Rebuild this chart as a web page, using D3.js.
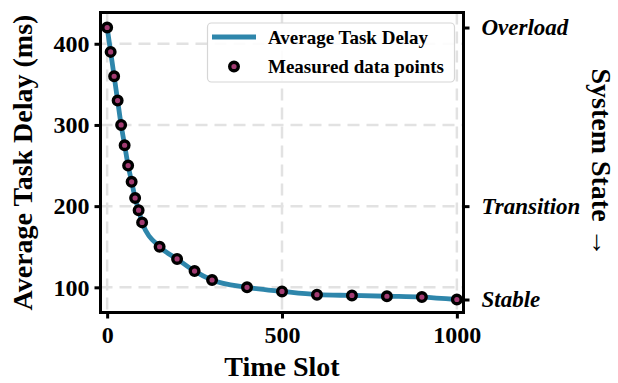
<!DOCTYPE html>
<html>
<head>
<meta charset="utf-8">
<script src="https://cdn.jsdelivr.net/npm/d3@7"></script>
<style>
  html, body { margin: 0; padding: 0; background: #fff; }
  svg { display: block; }
  text { font-family: "Liberation Serif", "Times New Roman", serif; font-weight: bold; fill: #000; }
</style>
</head>
<body>
<svg id="chart" width="618" height="383"></svg>
<script>
// Measured delay per time slot
const timeSlots = [0, 10, 20, 30, 40, 50, 60, 70, 80, 90, 100, 150, 200, 250, 300, 400, 500, 600, 700, 800, 900, 1000];
const delays    = [420, 390, 360, 330, 300, 275, 250, 230, 210, 195, 180, 150, 135, 120, 109, 100, 95, 91, 90, 89, 88, 85];

// Axis ticks
const xTicks = [0, 500, 1000];
const yTicks = [100, 200, 300, 400];
const stateTicks = [85, 200, 420];
const stateLabels = ["Stable", "Transition", "Overload"];

const lineColor = "#2E86AB";
const pointColor = "#A23B72";

const W = 618, H = 383;
const margin = { top: 12.5, right: 154.5, bottom: 70.5, left: 100.5 };
const pw = W - margin.left - margin.right;
const ph = H - margin.top - margin.bottom;

const svg = d3.select("#chart");
const g = svg.append("g").attr("transform", `translate(${margin.left},${margin.top})`);

const x = d3.scaleLinear().domain([-19, 1019]).range([0, pw]);
const y = d3.scaleLinear().domain([69, 438.5]).range([ph, 0]);

const data = timeSlots.map((t, i) => ({ t, v: delays[i] }));

// Dashed grid
const grid = g.append("g");
grid.selectAll("line.gx").data(xTicks).join("line")
  .attr("x1", d => x(d)).attr("x2", d => x(d))
  .attr("y1", 0).attr("y2", ph)
  .attr("stroke", "#e2e2e2").attr("stroke-width", 2.5).attr("stroke-dasharray", "12,7");
grid.selectAll("line.gy").data(yTicks).join("line")
  .attr("x1", 0).attr("x2", pw)
  .attr("y1", d => y(d)).attr("y2", d => y(d))
  .attr("stroke", "#e2e2e2").attr("stroke-width", 2.5).attr("stroke-dasharray", "12,7");

// Delay curve
const line = d3.line().x(d => x(d.t)).y(d => y(d.v)).curve(d3.curveMonotoneX);
g.append("path").datum(data)
  .attr("d", line)
  .attr("fill", "none")
  .attr("stroke", lineColor)
  .attr("stroke-width", 4.8)
  .attr("stroke-linejoin", "round");

// Measured points
g.selectAll("circle.pt").data(data).join("circle")
  .attr("cx", d => x(d.t)).attr("cy", d => y(d.v))
  .attr("r", 4.3)
  .attr("fill", pointColor)
  .attr("stroke", "#000")
  .attr("stroke-width", 3.4);

// Axes
const tickSize = 6;
const xAxis = g.append("g").attr("transform", `translate(0,${ph})`)
  .call(d3.axisBottom(x).tickValues(xTicks).tickSize(tickSize).tickPadding(7).tickFormat(d3.format("d")));
const yAxis = g.append("g")
  .call(d3.axisLeft(y).tickValues(yTicks).tickSize(tickSize).tickPadding(5).tickFormat(d3.format("d")));
const rAxis = g.append("g").attr("transform", `translate(${pw},0)`)
  .call(d3.axisRight(y).tickValues(stateTicks).tickSize(tickSize).tickPadding(12)
    .tickFormat((d, i) => stateLabels[i]));

[xAxis, yAxis, rAxis].forEach(a => {
  a.select(".domain").remove();
  a.selectAll(".tick line").attr("stroke", "#000").attr("stroke-width", 3);
  a.selectAll(".tick text").attr("font-family", "Liberation Serif, serif")
    .attr("font-weight", "bold").attr("fill", "#000");
});
xAxis.selectAll(".tick text").attr("font-size", 24);
yAxis.selectAll(".tick text").attr("font-size", 24);
rAxis.selectAll(".tick text").attr("font-size", 23).attr("font-style", "italic");

// Frame
g.append("rect").attr("x", 0).attr("y", 0).attr("width", pw).attr("height", ph)
  .attr("fill", "none").attr("stroke", "#000").attr("stroke-width", 3);

// Axis titles
svg.append("text")
  .attr("x", margin.left + pw / 2).attr("y", 376)
  .attr("text-anchor", "middle").attr("font-size", 28)
  .text("Time Slot");
svg.append("text")
  .attr("transform", `translate(32,${margin.top + ph / 2}) rotate(-90)`)
  .attr("text-anchor", "middle").attr("font-size", 28)
  .text("Average Task Delay (ms)");
svg.append("text")
  .attr("transform", `translate(592,${margin.top + ph / 2}) rotate(90)`)
  .attr("text-anchor", "middle").attr("font-size", 28)
  .text("System State \u2192");

// Legend
const lg = svg.append("g");
lg.append("rect")
  .attr("x", 207.5).attr("y", 23).attr("width", 247).attr("height", 59).attr("rx", 4)
  .attr("fill", "#fff").attr("fill-opacity", 0.9)
  .attr("stroke", "#d6d6d6").attr("stroke-width", 1.2);
lg.append("line")
  .attr("x1", 212).attr("x2", 256).attr("y1", 37).attr("y2", 37)
  .attr("stroke", lineColor).attr("stroke-width", 4.8);
lg.append("circle")
  .attr("cx", 234).attr("cy", 66.5).attr("r", 4.3)
  .attr("fill", pointColor).attr("stroke", "#000").attr("stroke-width", 3.4);
lg.append("text").attr("x", 268).attr("y", 37).attr("dy", "0.35em")
  .attr("font-size", 19).text("Average Task Delay");
lg.append("text").attr("x", 268).attr("y", 66.5).attr("dy", "0.35em")
  .attr("font-size", 19).text("Measured data points");
</script>
</body>
</html>
